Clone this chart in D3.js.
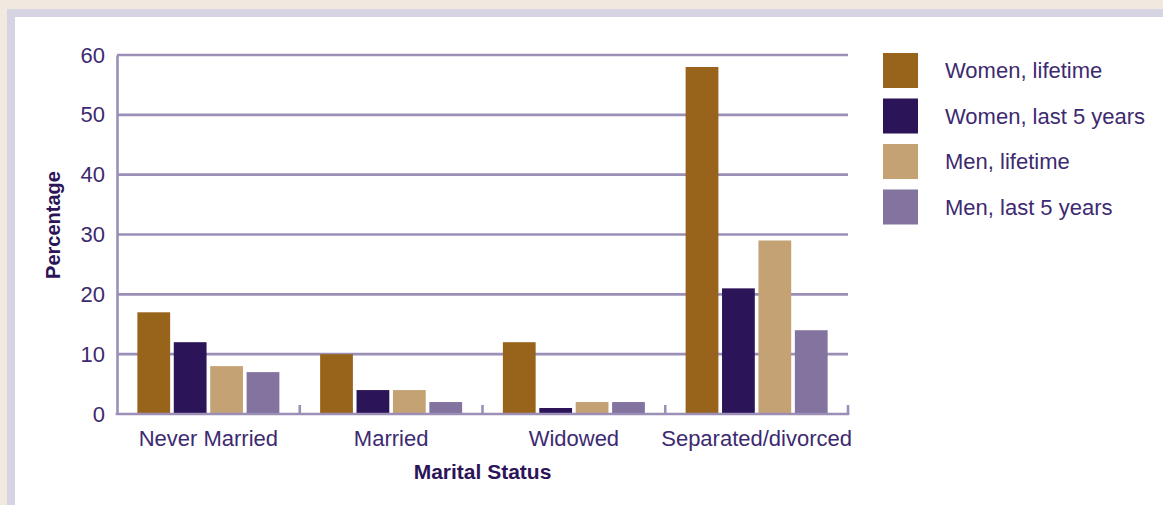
<!DOCTYPE html>
<html>
<head>
<meta charset="utf-8">
<script src="https://cdn.jsdelivr.net/npm/d3@7"></script>
<style>
  html, body { margin: 0; padding: 0; background: #ffffff; }
  svg { display: block; font-family: "Liberation Sans", Arial, sans-serif; }
</style>
</head>
<body>
<svg id="chart" width="1163" height="505"></svg>
<script>
// ---- data ----
const categories = ["Never Married", "Married", "Widowed", "Separated/divorced"];
const seriesNames = ["Women, lifetime", "Women, last 5 years", "Men, lifetime", "Men, last 5 years"];
const womenLifetime = [17, 10, 12, 58];
const womenLast5 = [12, 4, 1, 21];
const menLifetime = [8, 4, 2, 29];
const menLast5 = [7, 2, 2, 14];
const yTicks = [0, 10, 20, 30, 40, 50, 60];
const seriesColors = ["#98641c", "#2c1458", "#c4a274", "#82739f"];

const seriesValues = [womenLifetime, womenLast5, menLifetime, menLast5];

(function () {
// ---- layout ----
const svg = d3.select("#chart");
const W = 1163, H = 505;
const mLeft = 117, mRight = 848, mTop = 55, mBottom = 414;
const gridColor = "#9b8fb7";
const textColor = "#3d2a70";
const titleColor = "#2c1458";

// background frame
svg.append("rect").attr("x", 0).attr("y", 0).attr("width", W).attr("height", H).attr("fill", "#f1e9df");
svg.append("rect").attr("x", 7).attr("y", 9).attr("width", W - 7).attr("height", H - 9).attr("fill", "#d6d3e3");
svg.append("rect").attr("x", 15).attr("y", 17).attr("width", W - 15).attr("height", H - 17).attr("fill", "#ffffff");

const y = d3.scaleLinear().domain([0, 60]).range([mBottom, mTop]);
const x0 = d3.scaleBand().domain(categories).range([mLeft, mRight]).paddingInner(0.223).paddingOuter(0.1115);
const x1 = d3.scaleBand().domain(seriesNames).range([0, x0.bandwidth()]).paddingInner(0.1).paddingOuter(0);
const color = d3.scaleOrdinal().domain(seriesNames).range(seriesColors);

// gridlines
svg.append("g")
  .selectAll("line")
  .data(yTicks.filter(d => d > 0))
  .join("line")
  .attr("x1", mLeft).attr("x2", mRight)
  .attr("y1", d => y(d)).attr("y2", d => y(d))
  .attr("stroke", gridColor).attr("stroke-width", 2.6);

// y axis
const yAxis = svg.append("g")
  .attr("transform", `translate(${mLeft},0)`)
  .call(d3.axisLeft(y).tickValues(yTicks).tickSize(0).tickPadding(12));
yAxis.select(".domain").attr("stroke", gridColor).attr("stroke-width", 2.6);
yAxis.selectAll("text").attr("fill", textColor).style("font-size", "22px")
  .style("font-family", "'Liberation Sans', Arial, sans-serif");

// bars
const groups = svg.append("g")
  .selectAll("g")
  .data(categories)
  .join("g")
  .attr("transform", d => `translate(${x0(d)},0)`);

groups.selectAll("rect")
  .data((c, ci) => seriesNames.map((s, si) => ({ s, v: seriesValues[si][ci] })))
  .join("rect")
  .attr("x", d => x1(d.s))
  .attr("width", x1.bandwidth())
  .attr("y", d => y(d.v))
  .attr("height", d => y(0) - y(d.v))
  .attr("fill", d => color(d.s));

// x axis (boundary ticks pointing up)
const xBoundary = d3.scaleLinear().domain([0, categories.length]).range([mLeft, mRight]);
svg.append("line")
  .attr("x1", mLeft - 1.3).attr("x2", mRight + 1.3)
  .attr("y1", mBottom).attr("y2", mBottom)
  .attr("stroke", gridColor).attr("stroke-width", 2.6);
svg.append("g")
  .selectAll("line")
  .data(d3.range(1, categories.length + 1))
  .join("line")
  .attr("x1", d => xBoundary(d)).attr("x2", d => xBoundary(d))
  .attr("y1", mBottom).attr("y2", mBottom - 9)
  .attr("stroke", gridColor).attr("stroke-width", 2.6);

// category labels
svg.append("g")
  .selectAll("text")
  .data(categories)
  .join("text")
  .attr("x", d => x0(d) + x0.bandwidth() / 2)
  .attr("y", 446)
  .attr("text-anchor", "middle")
  .attr("fill", textColor)
  .style("font-size", "22px")
  .text(d => d);

// axis titles
svg.append("text")
  .attr("x", (mLeft + mRight) / 2)
  .attr("y", 479)
  .attr("text-anchor", "middle")
  .attr("fill", titleColor)
  .style("font-size", "21px")
  .style("font-weight", "bold")
  .text("Marital Status");

svg.append("text")
  .attr("transform", "translate(60,225) rotate(-90)")
  .attr("text-anchor", "middle")
  .attr("fill", titleColor)
  .style("font-size", "20px")
  .style("font-weight", "bold")
  .text("Percentage");

// legend
const legend = svg.append("g")
  .selectAll("g")
  .data(seriesNames)
  .join("g")
  .attr("transform", (d, i) => `translate(883,${53 + i * 45.5})`);
legend.append("rect")
  .attr("width", 35).attr("height", 35)
  .attr("fill", d => color(d));
legend.append("text")
  .attr("x", 62)
  .attr("y", 17.5)
  .attr("dy", "0.36em")
  .attr("fill", textColor)
  .style("font-size", "22px")
  .text(d => d);
})();
</script>
</body>
</html>
